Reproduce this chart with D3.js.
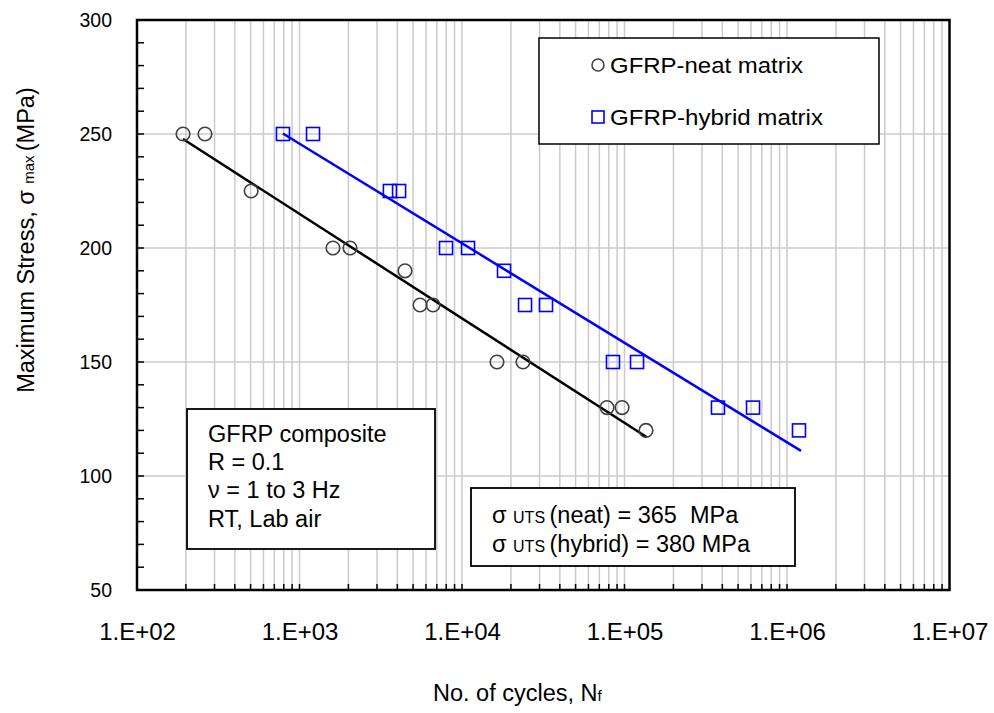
<!DOCTYPE html>
<html><head><meta charset="utf-8">
<script src="https://cdn.jsdelivr.net/npm/d3@7"></script>
<style>
body{margin:0;background:#fff;}
text{font-family:"Liberation Sans",Arial,sans-serif;fill:#000;}
</style></head>
<body><svg id="c" width="994" height="713"></svg>
<script>
// ---- data ----
const neatCycles  = [192, 262, 504, 1607, 2046, 4460, 5516, 6634, 16420, 23730, 78060, 96600, 135600];
const neatStress  = [250, 250, 225, 200, 200, 190, 175, 175, 150, 150, 130, 130, 120];
const hybCycles   = [791, 1211, 3600, 4100, 7975, 10890, 18140, 24430, 32880, 84950, 119400, 376000, 618000, 1185000];
const hybStress   = [250, 250, 225, 225, 200, 200, 190, 175, 175, 150, 150, 130, 130, 120];
const neatFit     = [[192, 247.8], [137400, 117]];
const hybFit      = [[790, 250.2], [1220000, 111]];
const xTickValues = [1e2, 1e3, 1e4, 1e5, 1e6, 1e7];
const xTickLabels = ["1.E+02", "1.E+03", "1.E+04", "1.E+05", "1.E+06", "1.E+07"];
const yTickValues = [50, 100, 150, 200, 250, 300];
const legendLabels = ["GFRP-neat matrix", "GFRP-hybrid matrix"];
const infoLines = ["GFRP composite", "R = 0.1", "\u03bd = 1 to 3 Hz", "RT, Lab air"];

const svg = d3.select("#c");
const L = 137, R = 949.5, T = 20, B = 590;
const x = d3.scaleLog().domain([1e2, 1e7]).range([L, R]);
const y = d3.scaleLinear().domain([50, 300]).range([B, T]);
const FF = '"Liberation Sans",Arial,sans-serif';

// gridlines
const minorX = [];
for (let e = 2; e < 7; e++) for (let m = 1; m <= 9; m++) minorX.push(m * Math.pow(10, e));
const g = svg.append("g");
g.selectAll(".vx").data(minorX.filter(v => v > 1e2)).join("line")
  .attr("x1", d => x(d)).attr("x2", d => x(d)).attr("y1", T).attr("y2", B)
  .attr("stroke", "#cbcbcb").attr("stroke-width", 1.5);
g.selectAll(".hy").data(yTickValues.slice(1, -1)).join("line")
  .attr("x1", L).attr("x2", R).attr("y1", d => y(d)).attr("y2", d => y(d))
  .attr("stroke", "#cbcbcb").attr("stroke-width", 1.5);

// inner ticks
const minorY = d3.range(50, 301, 10);
g.selectAll(".ty").data(minorY).join("line")
  .attr("x1", L).attr("x2", L + 7).attr("y1", d => y(d)).attr("y2", d => y(d))
  .attr("stroke", "#000").attr("stroke-width", 1.5);
g.selectAll(".tx").data(minorX).join("line")
  .attr("x1", d => x(d)).attr("x2", d => x(d)).attr("y1", B).attr("y2", B - 6)
  .attr("stroke", "#000").attr("stroke-width", 1.5);

// axes labels via d3 axes (no lines)
const xAxis = d3.axisBottom(x).tickValues(xTickValues).tickFormat((d, i) => xTickLabels[i]).tickSize(0).tickPadding(0);
const xa = svg.append("g").attr("transform", `translate(0,${B})`).call(xAxis);
xa.select(".domain").remove();
xa.selectAll("text").attr("y", 50).attr("dy", 0).style("font-size", "24px").style("font-family", FF).attr("fill", "#000");

const yAxis = d3.axisLeft(y).tickValues(yTickValues).tickSize(0).tickPadding(0);
const ya = svg.append("g").attr("transform", `translate(112,0)`).call(yAxis);
ya.select(".domain").remove();
ya.selectAll("text").attr("x", 0).attr("dy", "0.35em").style("font-size", "19.5px").style("font-family", FF).attr("fill", "#222");

// frame
svg.append("rect").attr("x", L).attr("y", T).attr("width", R - L).attr("height", B - T)
  .attr("fill", "none").attr("stroke", "#000").attr("stroke-width", 2.5);

// fit lines
const line = d3.line().x(d => x(d[0])).y(d => y(d[1]));
svg.append("path").attr("d", line(neatFit)).attr("stroke", "#000").attr("stroke-width", 2.5).attr("fill", "none");
svg.append("path").attr("d", line(hybFit)).attr("stroke", "#0000ff").attr("stroke-width", 2.5).attr("fill", "none");

// markers
const neat = neatCycles.map((c, i) => [c, neatStress[i]]);
const hyb = hybCycles.map((c, i) => [c, hybStress[i]]);
svg.selectAll(".cn").data(neat).join("circle")
  .attr("cx", d => x(d[0])).attr("cy", d => y(d[1])).attr("r", 6.8)
  .attr("fill", "none").attr("stroke", "#404040").attr("stroke-width", 1.6);
svg.selectAll(".sh").data(hyb).join("rect")
  .attr("x", d => x(d[0]) - 6.5).attr("y", d => y(d[1]) - 6.5).attr("width", 13).attr("height", 13)
  .attr("fill", "none").attr("stroke", "#0000ff").attr("stroke-width", 1.6);

// legend
const lg = svg.append("g");
lg.append("rect").attr("x", 539).attr("y", 38).attr("width", 340).attr("height", 106)
  .attr("fill", "#fff").attr("stroke", "#000").attr("stroke-width", 1.5);
lg.append("circle").attr("cx", 598).attr("cy", 65).attr("r", 6)
  .attr("fill", "none").attr("stroke", "#404040").attr("stroke-width", 1.6);
lg.append("rect").attr("x", 592).attr("y", 111).attr("width", 12).attr("height", 12)
  .attr("fill", "none").attr("stroke", "#0000ff").attr("stroke-width", 1.6);
lg.append("text").attr("x", 610).attr("y", 73).style("font-size", "22px").attr("textLength", 193).attr("lengthAdjust", "spacingAndGlyphs").text(legendLabels[0]);
lg.append("text").attr("x", 610).attr("y", 125).style("font-size", "22px").attr("textLength", 213).attr("lengthAdjust", "spacingAndGlyphs").text(legendLabels[1]);

// info box
const ib = svg.append("g");
ib.append("rect").attr("x", 187).attr("y", 409).attr("width", 248).attr("height", 140)
  .attr("fill", "#fff").attr("stroke", "#000").attr("stroke-width", 1.8);
ib.selectAll("text").data(infoLines).join("text")
  .attr("x", 208).attr("y", (d, i) => 442 + i * 28.2).style("font-size", "23.5px").text(d => d);

// UTS box
const ub = svg.append("g");
ub.append("rect").attr("x", 471).attr("y", 488).attr("width", 324).attr("height", 78)
  .attr("fill", "#fff").attr("stroke", "#000").attr("stroke-width", 1.8);
const utsRows = [["(neat) = 365\u00a0\u00a0MPa", 523], ["(hybrid) = 380 MPa", 552]];
utsRows.forEach(r => {
  const t = ub.append("text").attr("x", 492).attr("y", r[1]).style("font-size", "23.5px");
  t.append("tspan").text("\u03c3 ");
  t.append("tspan").style("font-size", "16px").text("UTS ");
  t.append("tspan").text(r[0]);
});

// axis titles
const xt = svg.append("text").attr("x", 433).attr("y", 701).style("font-size", "23.5px");
xt.append("tspan").text("No. of cycles, N");
xt.append("tspan").style("font-size", "15px").text("f");

const yt = svg.append("text").attr("transform", "translate(34,240) rotate(-90)").attr("text-anchor", "middle").style("font-size", "23.5px");
yt.append("tspan").text("Maximum Stress,  \u03c3 ");
yt.append("tspan").style("font-size", "15px").text("max ");
yt.append("tspan").text("(MPa)");
</script></body></html>
